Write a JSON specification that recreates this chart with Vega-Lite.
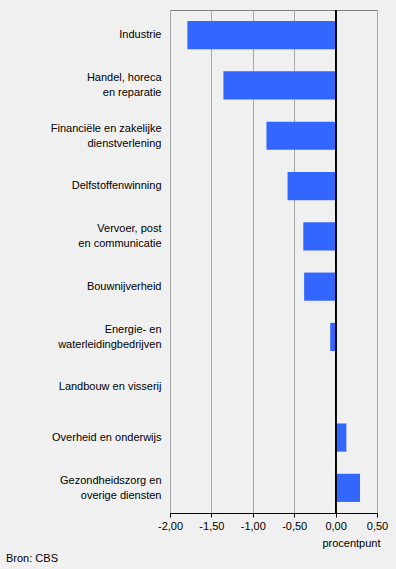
{
  "$schema": "https://vega.github.io/schema/vega-lite/v6.json",
  "autosize": {"type": "none"},
  "width": 207,
  "height": 503,
  "padding": {"left": 170, "top": 10, "right": 19, "bottom": 56},
  "background": "#f0f0f0",
  "title": {
    "text": "Bron: CBS",
    "orient": "bottom",
    "anchor": "start",
    "frame": "group",
    "dx": -164,
    "offset": 5,
    "font": "Liberation Sans",
    "fontSize": 11,
    "fontWeight": "normal",
    "color": "#000000"
  },
  "data": {
    "values": [
      {"sector": "Industrie", "value": -1.79},
      {"sector": "Handel, horeca|en reparatie", "value": -1.355},
      {"sector": "Financiële en zakelijke|dienstverlening", "value": -0.835},
      {"sector": "Delfstoffenwinning", "value": -0.58},
      {"sector": "Vervoer, post|en communicatie", "value": -0.39},
      {"sector": "Bouwnijverheid", "value": -0.38},
      {"sector": "Energie- en|waterleidingbedrijven", "value": -0.065},
      {"sector": "Landbouw en visserij", "value": 0},
      {"sector": "Overheid en onderwijs", "value": 0.13},
      {"sector": "Gezondheidszorg en|overige diensten", "value": 0.295}
    ]
  },
  "config": {
    "view": {"stroke": "#808080", "strokeWidth": 1},
    "font": "Liberation Sans",
    "axis": {
      "labelFont": "Liberation Sans",
      "labelFontSize": 11,
      "labelColor": "#000000",
      "titleFont": "Liberation Sans",
      "titleFontSize": 11,
      "titleFontWeight": "normal",
      "titleColor": "#000000"
    }
  },
  "layer": [
    {
      "mark": {"type": "bar", "color": "#3366ff"},
      "encoding": {
        "y": {
          "field": "sector",
          "type": "nominal",
          "sort": null,
          "scale": {"paddingInner": 0.44, "paddingOuter": 0.22},
          "axis": {
            "title": null,
            "domain": false,
            "ticks": false,
            "labelPadding": 9,
            "labelLimit": 300,
            "labelLineHeight": 15,
            "labelOffset": {"condition": {"test": "indexof(datum.value, '|') >= 0", "value": -7}, "value": 0},
            "labelExpr": "split(datum.label, '|')"
          }
        },
        "x": {
          "field": "value",
          "type": "quantitative",
          "scale": {"domain": [-2, 0.5], "nice": false, "zero": false},
          "axis": {
            "values": [-2, -1.5, -1, -0.5, 0, 0.5],
            "labelExpr": "replace(replace(format(datum.value, '.2f'), '.', ','), '\u2212', '-')",
            "grid": true,
            "gridColor": "#a8a8a8",
            "gridWidth": 1,
            "domainColor": "#000000",
            "domainWidth": 1,
            "tickColor": "#000000",
            "tickSize": 4,
            "labelPadding": 3,
            "labelFlush": false,
            "title": "procentpunt",
            "titleAnchor": "end",
            "titleAlign": "right",
            "titlePadding": 6,
            "titleX": 210
          }
        }
      }
    },
    {
      "mark": {"type": "rule", "color": "#000000", "strokeWidth": 1.2},
      "encoding": {"x": {"datum": 0}}
    }
  ]
}
